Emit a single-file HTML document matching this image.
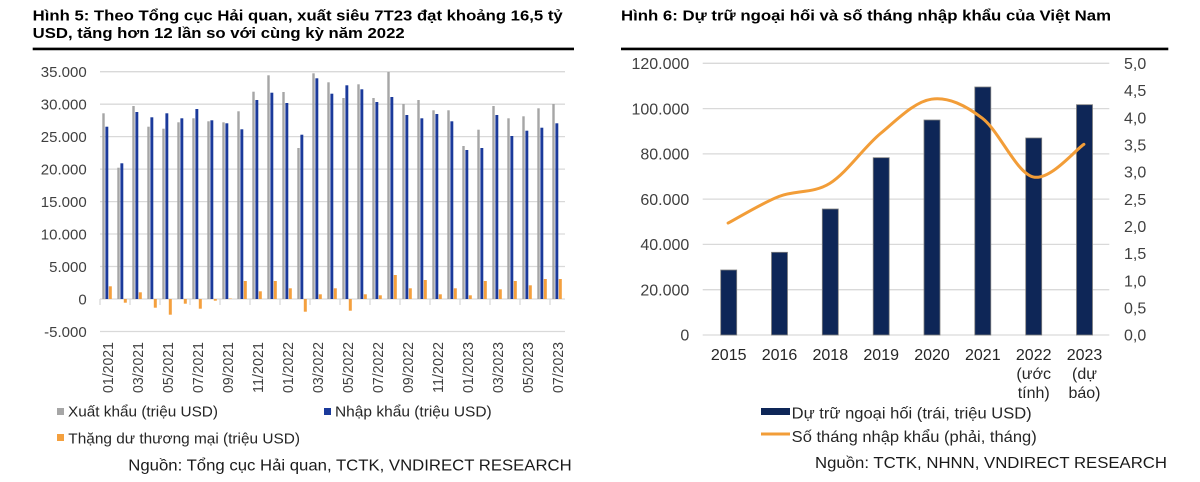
<!DOCTYPE html>
<html><head><meta charset="utf-8"><style>
html,body{margin:0;padding:0;background:#fff;}
svg{display:block;}
text{font-family:"Liberation Sans",Arial,sans-serif;}
</style></head><body>
<svg width="1200" height="482" viewBox="0 0 1200 482" xmlns="http://www.w3.org/2000/svg">
<rect width="1200" height="482" fill="#fff"/>
<!-- LEFT TITLE -->
<text x="32.7" y="20.5" font-size="15" font-weight="bold" fill="#000" textLength="530" lengthAdjust="spacingAndGlyphs">Hình 5: Theo Tổng cục Hải quan, xuất siêu 7T23 đạt khoảng 16,5 tỷ</text>
<text x="32.7" y="38" font-size="15" font-weight="bold" fill="#000" textLength="372" lengthAdjust="spacingAndGlyphs">USD, tăng hơn 12 lần so với cùng kỳ năm 2022</text>
<line x1="32.7" y1="48.9" x2="574" y2="48.9" stroke="#000" stroke-width="2.6"/>

<!-- LEFT GRID -->
<g stroke="#d9d9d9" stroke-width="1.3">
<line x1="100" y1="71.7" x2="565" y2="71.7"/>
<line x1="100" y1="104.2" x2="565" y2="104.2"/>
<line x1="100" y1="136.6" x2="565" y2="136.6"/>
<line x1="100" y1="169.1" x2="565" y2="169.1"/>
<line x1="100" y1="201.6" x2="565" y2="201.6"/>
<line x1="100" y1="234" x2="565" y2="234"/>
<line x1="100" y1="266.5" x2="565" y2="266.5"/>
<line x1="100" y1="331.5" x2="565" y2="331.5"/>
<line x1="100" y1="299" x2="565" y2="299"/>
<line x1="100" y1="299" x2="100" y2="305"/><line x1="130" y1="299" x2="130" y2="305"/><line x1="160" y1="299" x2="160" y2="305"/><line x1="190" y1="299" x2="190" y2="305"/><line x1="220" y1="299" x2="220" y2="305"/><line x1="250" y1="299" x2="250" y2="305"/><line x1="280" y1="299" x2="280" y2="305"/><line x1="310" y1="299" x2="310" y2="305"/><line x1="340" y1="299" x2="340" y2="305"/><line x1="370" y1="299" x2="370" y2="305"/><line x1="400" y1="299" x2="400" y2="305"/><line x1="430" y1="299" x2="430" y2="305"/><line x1="460" y1="299" x2="460" y2="305"/><line x1="490" y1="299" x2="490" y2="305"/><line x1="520" y1="299" x2="520" y2="305"/><line x1="550" y1="299" x2="550" y2="305"/>
</g>
<g font-size="15" fill="#404040" text-anchor="end">
<text x="86.7" y="77.1">35.000</text>
<text x="86.7" y="109.6">30.000</text>
<text x="86.7" y="142">25.000</text>
<text x="86.7" y="174.5">20.000</text>
<text x="86.7" y="207">15.000</text>
<text x="86.7" y="239.4">10.000</text>
<text x="86.7" y="271.9">5.000</text>
<text x="86.7" y="304.4">0</text>
<text x="86.7" y="336.9">-5.000</text>
</g>

<!-- grey bars -->
<g fill="#a6a6a6">
<rect x="102.3" y="113.3" width="2.4" height="185.7"/>
<rect x="117.3" y="167.7" width="2.4" height="131.3"/>
<rect x="132.3" y="106" width="2.4" height="193"/>
<rect x="147.3" y="126.7" width="2.4" height="172.3"/>
<rect x="162.3" y="128.7" width="2.4" height="170.3"/>
<rect x="177.3" y="122.3" width="2.4" height="176.7"/>
<rect x="192.3" y="118.3" width="2.4" height="180.7"/>
<rect x="207.3" y="121.3" width="2.4" height="177.7"/>
<rect x="222.3" y="122.3" width="2.4" height="176.7"/>
<rect x="237.3" y="111.3" width="2.4" height="187.7"/>
<rect x="252.3" y="91.7" width="2.4" height="207.3"/>
<rect x="267.3" y="75.3" width="2.4" height="223.7"/>
<rect x="282.3" y="92" width="2.4" height="207"/>
<rect x="297.3" y="148" width="2.4" height="151"/>
<rect x="312.3" y="73.3" width="2.4" height="225.7"/>
<rect x="327.3" y="82.3" width="2.4" height="216.7"/>
<rect x="342.3" y="98" width="2.4" height="201"/>
<rect x="357.3" y="84.3" width="2.4" height="214.7"/>
<rect x="372.3" y="98" width="2.4" height="201"/>
<rect x="387.3" y="72" width="2.4" height="227"/>
<rect x="402.3" y="104" width="2.4" height="195"/>
<rect x="417.3" y="100" width="2.4" height="199"/>
<rect x="432.3" y="110.3" width="2.4" height="188.7"/>
<rect x="447.3" y="110.3" width="2.4" height="188.7"/>
<rect x="462.3" y="146" width="2.4" height="153"/>
<rect x="477.3" y="129.7" width="2.4" height="169.3"/>
<rect x="492.3" y="106" width="2.4" height="193"/>
<rect x="507.3" y="118.3" width="2.4" height="180.7"/>
<rect x="522.3" y="116.3" width="2.4" height="182.7"/>
<rect x="537.3" y="108.3" width="2.4" height="190.7"/>
<rect x="552.3" y="104" width="2.4" height="195"/>
</g>
<!-- blue bars -->
<g fill="#1b3a9b">
<rect x="105.4" y="126.7" width="2.9" height="172.3"/>
<rect x="120.4" y="163.3" width="2.9" height="135.7"/>
<rect x="135.4" y="112" width="2.9" height="187"/>
<rect x="150.4" y="117.3" width="2.9" height="181.7"/>
<rect x="165.4" y="113.3" width="2.9" height="185.7"/>
<rect x="180.4" y="118.3" width="2.9" height="180.7"/>
<rect x="195.4" y="109" width="2.9" height="190"/>
<rect x="210.4" y="120.3" width="2.9" height="178.7"/>
<rect x="225.4" y="123.3" width="2.9" height="175.7"/>
<rect x="240.4" y="129.3" width="2.9" height="169.7"/>
<rect x="255.4" y="100" width="2.9" height="199"/>
<rect x="270.4" y="92.7" width="2.9" height="206.3"/>
<rect x="285.4" y="103" width="2.9" height="196"/>
<rect x="300.4" y="134.7" width="2.9" height="164.3"/>
<rect x="315.4" y="78.3" width="2.9" height="220.7"/>
<rect x="330.4" y="93.7" width="2.9" height="205.3"/>
<rect x="345.4" y="85.3" width="2.9" height="213.7"/>
<rect x="360.4" y="89.3" width="2.9" height="209.7"/>
<rect x="375.4" y="102" width="2.9" height="197"/>
<rect x="390.4" y="97" width="2.9" height="202"/>
<rect x="405.4" y="115" width="2.9" height="184"/>
<rect x="420.4" y="118.3" width="2.9" height="180.7"/>
<rect x="435.4" y="114" width="2.9" height="185"/>
<rect x="450.4" y="121.3" width="2.9" height="177.7"/>
<rect x="465.4" y="150" width="2.9" height="149"/>
<rect x="480.4" y="148" width="2.9" height="151"/>
<rect x="495.4" y="115" width="2.9" height="184"/>
<rect x="510.4" y="136" width="2.9" height="163"/>
<rect x="525.4" y="130.7" width="2.9" height="168.3"/>
<rect x="540.4" y="127.7" width="2.9" height="171.3"/>
<rect x="555.4" y="123.3" width="2.9" height="175.7"/>
</g>
<!-- orange bars -->
<g fill="#f4a03e">
<rect x="108.8" y="286.3" width="3" height="12.7"/>
<rect x="123.8" y="299" width="3" height="3.7"/>
<rect x="138.8" y="292.3" width="3" height="6.7"/>
<rect x="153.8" y="299" width="3" height="8.7"/>
<rect x="168.8" y="299" width="3" height="15.7"/>
<rect x="183.8" y="299" width="3" height="4.7"/>
<rect x="198.8" y="299" width="3" height="9.7"/>
<rect x="213.8" y="299" width="3" height="1.7"/>
<rect x="228.8" y="298.5" width="3" height="0.5"/>
<rect x="243.8" y="281" width="3" height="18"/>
<rect x="258.8" y="291.3" width="3" height="7.7"/>
<rect x="273.8" y="281" width="3" height="18"/>
<rect x="288.8" y="288.3" width="3" height="10.7"/>
<rect x="303.8" y="299" width="3" height="12.7"/>
<rect x="318.8" y="294.3" width="3" height="4.7"/>
<rect x="333.8" y="288.3" width="3" height="10.7"/>
<rect x="348.8" y="299" width="3" height="11.7"/>
<rect x="363.8" y="294.3" width="3" height="4.7"/>
<rect x="378.8" y="295.3" width="3" height="3.7"/>
<rect x="393.8" y="275" width="3" height="24"/>
<rect x="408.8" y="288.3" width="3" height="10.7"/>
<rect x="423.8" y="280" width="3" height="19"/>
<rect x="438.8" y="294.3" width="3" height="4.7"/>
<rect x="453.8" y="288.3" width="3" height="10.7"/>
<rect x="468.8" y="295.3" width="3" height="3.7"/>
<rect x="483.8" y="281" width="3" height="18"/>
<rect x="498.8" y="289.3" width="3" height="9.7"/>
<rect x="513.8" y="281" width="3" height="18"/>
<rect x="528.8" y="285.3" width="3" height="13.7"/>
<rect x="543.8" y="279" width="3" height="20"/>
<rect x="558.8" y="279" width="3" height="20"/>
</g>

<!-- left x labels -->
<g font-size="14.5" fill="#404040" text-anchor="end">
<text transform="translate(113,342) rotate(-90)" textLength="51" lengthAdjust="spacingAndGlyphs">01/2021</text>
<text transform="translate(143,342) rotate(-90)" textLength="51" lengthAdjust="spacingAndGlyphs">03/2021</text>
<text transform="translate(173,342) rotate(-90)" textLength="51" lengthAdjust="spacingAndGlyphs">05/2021</text>
<text transform="translate(203,342) rotate(-90)" textLength="51" lengthAdjust="spacingAndGlyphs">07/2021</text>
<text transform="translate(233,342) rotate(-90)" textLength="51" lengthAdjust="spacingAndGlyphs">09/2021</text>
<text transform="translate(263,342) rotate(-90)" textLength="51" lengthAdjust="spacingAndGlyphs">11/2021</text>
<text transform="translate(293,342) rotate(-90)" textLength="51" lengthAdjust="spacingAndGlyphs">01/2022</text>
<text transform="translate(323,342) rotate(-90)" textLength="51" lengthAdjust="spacingAndGlyphs">03/2022</text>
<text transform="translate(353,342) rotate(-90)" textLength="51" lengthAdjust="spacingAndGlyphs">05/2022</text>
<text transform="translate(383,342) rotate(-90)" textLength="51" lengthAdjust="spacingAndGlyphs">07/2022</text>
<text transform="translate(413,342) rotate(-90)" textLength="51" lengthAdjust="spacingAndGlyphs">09/2022</text>
<text transform="translate(443,342) rotate(-90)" textLength="51" lengthAdjust="spacingAndGlyphs">11/2022</text>
<text transform="translate(473,342) rotate(-90)" textLength="51" lengthAdjust="spacingAndGlyphs">01/2023</text>
<text transform="translate(503,342) rotate(-90)" textLength="51" lengthAdjust="spacingAndGlyphs">03/2023</text>
<text transform="translate(533,342) rotate(-90)" textLength="51" lengthAdjust="spacingAndGlyphs">05/2023</text>
<text transform="translate(563,342) rotate(-90)" textLength="51" lengthAdjust="spacingAndGlyphs">07/2023</text>
</g>

<!-- left legend -->
<rect x="57" y="408" width="7" height="7" fill="#a6a6a6"/>
<text x="68" y="416.7" font-size="15" fill="#262626" textLength="150" lengthAdjust="spacingAndGlyphs">Xuất khẩu (triệu USD)</text>
<rect x="324" y="408" width="7" height="7" fill="#1b3a9b"/>
<text x="335" y="416.7" font-size="15" fill="#262626" textLength="156.7" lengthAdjust="spacingAndGlyphs">Nhập khẩu (triệu USD)</text>
<rect x="57" y="434" width="7" height="7" fill="#f4a03e"/>
<text x="68.3" y="443.3" font-size="15" fill="#262626" textLength="231.7" lengthAdjust="spacingAndGlyphs">Thặng dư thương mại (triệu USD)</text>
<text x="128.3" y="470.5" font-size="16" fill="#1a1a1a" textLength="443.4" lengthAdjust="spacingAndGlyphs">Nguồn: Tổng cục Hải quan, TCTK, VNDIRECT RESEARCH</text>

<!-- RIGHT TITLE -->
<text x="621" y="20.5" font-size="15" font-weight="bold" fill="#000" textLength="490" lengthAdjust="spacingAndGlyphs">Hình 6: Dự trữ ngoại hối và số tháng nhập khẩu của Việt Nam</text>
<line x1="621" y1="48.9" x2="1168.3" y2="48.9" stroke="#000" stroke-width="2.6"/>

<!-- RIGHT GRID -->
<g stroke="#d9d9d9" stroke-width="1.3">
<line x1="702.7" y1="63.3" x2="1109.3" y2="63.3"/>
<line x1="702.7" y1="108.6" x2="1109.3" y2="108.6"/>
<line x1="702.7" y1="153.9" x2="1109.3" y2="153.9"/>
<line x1="702.7" y1="199.1" x2="1109.3" y2="199.1"/>
<line x1="702.7" y1="244.4" x2="1109.3" y2="244.4"/>
<line x1="702.7" y1="289.7" x2="1109.3" y2="289.7"/>
<line x1="702.7" y1="335" x2="1109.3" y2="335"/>
</g>
<g font-size="16" fill="#404040" text-anchor="end">
<text x="689.3" y="69">120.000</text>
<text x="689.3" y="114.3">100.000</text>
<text x="689.3" y="159.6">80.000</text>
<text x="689.3" y="204.8">60.000</text>
<text x="689.3" y="250.1">40.000</text>
<text x="689.3" y="295.4">20.000</text>
<text x="689.3" y="340.7">0</text>
</g>
<g font-size="16" fill="#404040">
<text x="1124" y="69">5,0</text>
<text x="1124" y="96.2">4,5</text>
<text x="1124" y="123.3">4,0</text>
<text x="1124" y="150.5">3,5</text>
<text x="1124" y="177.7">3,0</text>
<text x="1124" y="204.9">2,5</text>
<text x="1124" y="232">2,0</text>
<text x="1124" y="259.2">1,5</text>
<text x="1124" y="286.4">1,0</text>
<text x="1124" y="313.5">0,5</text>
<text x="1124" y="340.7">0,0</text>
</g>

<!-- right bars -->
<g fill="#0e2657" stroke="#7f7f7f" stroke-width="0.8">
<rect x="720.7" y="270" width="16" height="65"/>
<rect x="771.5" y="252.3" width="16" height="82.7"/>
<rect x="822.3" y="209" width="16" height="126"/>
<rect x="873.2" y="157.7" width="16" height="177.3"/>
<rect x="924" y="120" width="16" height="215"/>
<rect x="974.8" y="87" width="16" height="248"/>
<rect x="1025.7" y="138" width="16" height="197"/>
<rect x="1076.5" y="104.7" width="16" height="230.3"/>
</g>
<!-- line -->
<path d="M728.1,223.1 C736.6,218.7 761.9,203.1 778.9,196.5 C795.9,189.9 812.9,193.9 829.8,183.4 C846.7,172.9 863.7,147.4 880.6,133.4 C897.5,119.4 914.5,101.7 931.4,99.2 C948.4,96.7 965.4,105.3 982.3,118.2 C999.3,131.2 1016.2,172.6 1033.1,176.9 C1050,181.2 1075.4,149.7 1083.9,144.3" fill="none" stroke="#f29d38" stroke-width="3" stroke-linecap="round"/>

<!-- right x labels -->
<g font-size="16" fill="#262626" text-anchor="middle">
<text x="728.7" y="360">2015</text>
<text x="779.5" y="360">2016</text>
<text x="830.3" y="360">2018</text>
<text x="881.2" y="360">2019</text>
<text x="932" y="360">2020</text>
<text x="982.8" y="360">2021</text>
<text x="1033.7" y="360">2022</text>
<text x="1033.7" y="379">(ước</text>
<text x="1033.7" y="398">tính)</text>
<text x="1084.5" y="360">2023</text>
<text x="1084.5" y="379">(dự</text>
<text x="1084.5" y="398">báo)</text>
</g>

<!-- right legend -->
<rect x="761" y="408" width="29" height="7" fill="#0e2657"/>
<text x="791.7" y="418.3" font-size="16" fill="#262626" textLength="240" lengthAdjust="spacingAndGlyphs">Dự trữ ngoại hối (trái, triệu USD)</text>
<line x1="761" y1="434" x2="790" y2="434" stroke="#f29d38" stroke-width="3"/>
<text x="791.7" y="442" font-size="16" fill="#262626" textLength="245" lengthAdjust="spacingAndGlyphs">Số tháng nhập khẩu (phải, tháng)</text>
<text x="815" y="468" font-size="16" fill="#1a1a1a" textLength="352" lengthAdjust="spacingAndGlyphs">Nguồn: TCTK, NHNN, VNDIRECT RESEARCH</text>
</svg>
</body></html>
